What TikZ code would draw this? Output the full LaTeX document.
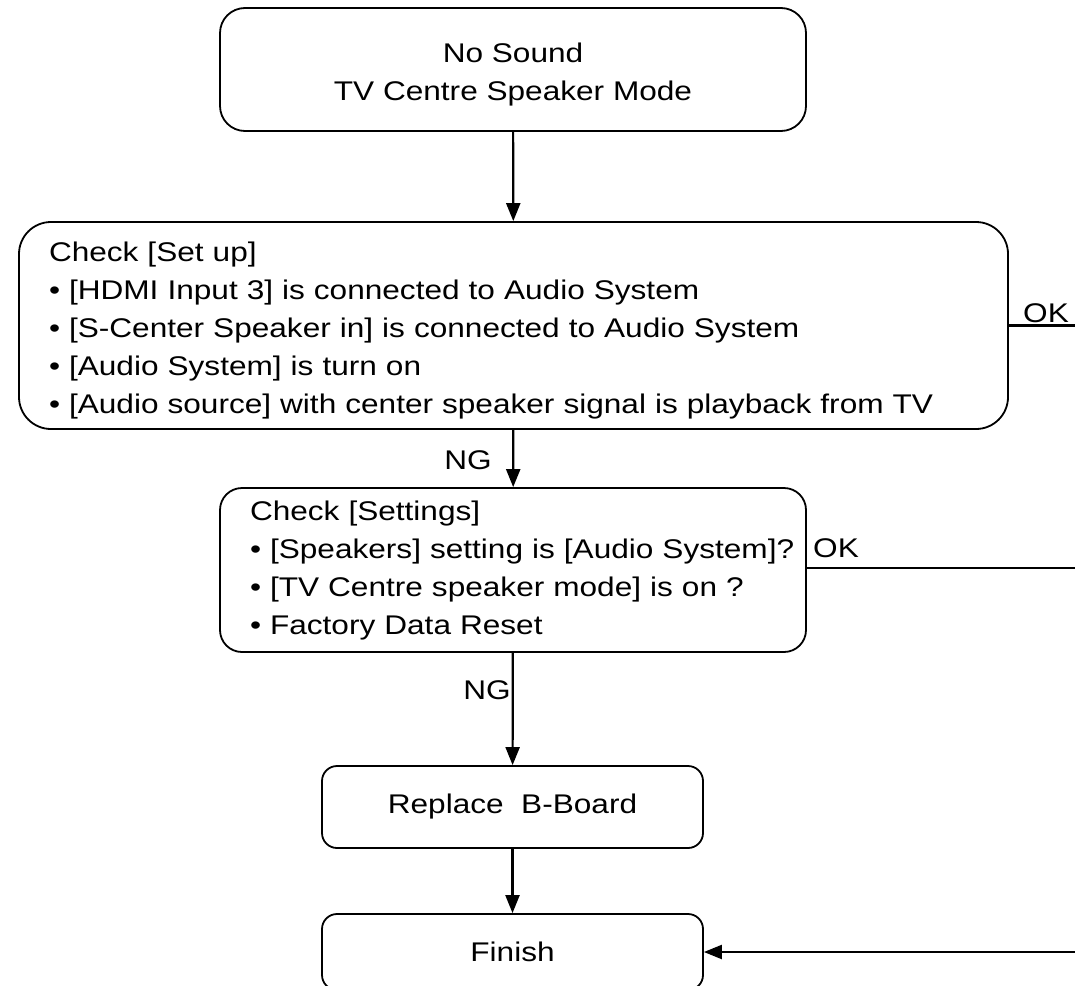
\documentclass[tikz,border=0pt]{standalone}
\usepackage{fontspec}
\setmainfont{Liberation Sans}[FakeStretch=1.17]
\usetikzlibrary{arrows.meta}
\begin{document}
\begin{tikzpicture}[x=1pt,y=-1pt,
  every node/.style={font=\fontsize{27}{38}\selectfont},
  box/.style={draw, line width=1.8pt, rounded corners=#1, inner sep=0pt},
  box/.default=20pt,
  arr/.style={line width=2.2pt, -{Triangle[length=18pt,width=14pt]}},
  ln/.style={line width=2.2pt},
  lbl/.style={inner sep=0pt}]
\useasboundingbox (0,0) rectangle (1075,985);
\node[box=25pt, minimum width=586pt, minimum height=123pt] (b1) at (513,69.5)
  {\raisebox{-4pt}[\height][\depth]{\begin{tabular}{@{}c@{}}No Sound\\TV Centre Speaker Mode\end{tabular}}};
\node[box=32pt, minimum width=989pt, minimum height=207pt, text width=929pt, inner xsep=30pt, align=left] (b2) at (513.5,325.5)
  {\raisebox{-4pt}[\height][\depth]{\begin{tabular}{@{}l@{}}Check [Set up]\\
   • [HDMI Input 3] is connected to Audio System\\
   • [S-Center Speaker in] is connected to Audio System\\
   • [Audio System] is turn on\\
   • [Audio source] with center speaker signal is playback from TV\end{tabular}}};
\node[box=22pt, minimum width=586pt, minimum height=164pt, text width=526pt, inner xsep=30pt, align=left] (b3) at (513,570)
  {\begin{tabular}{@{}l@{}}Check [Settings]\\
   • [Speakers] setting is [Audio System]?\\
   • [TV Centre speaker mode] is on ?\\
   • Factory Data Reset\end{tabular}};
\node[box=15pt, minimum width=381pt, minimum height=82pt] (b4) at (512.5,807) {Replace\ \ B-Board};
\node[box=15pt, minimum width=381pt, minimum height=76pt] (b5) at (512.5,952) {Finish};
\coordinate (e1) at (1075,325.5);
\coordinate (e2) at (1075,568);
\coordinate (e3) at (1075,952);
\draw[arr] (b1) -- (b2);
\draw[arr] (b2) -- (b3);
\draw[arr] (b3) -- (b4);
\draw[arr] (b4) -- (b5);
\draw[ln] (b2.east) -- (e1);
\draw[ln] (b3.east |- e2) -- (e2);
\draw[arr] (e3) -- (b5.east);
\node[lbl] (ok1) at (1046,313) {OK};
\node[lbl] (ok2) at (836,548) {OK};
\node[lbl] (ng1) at (468,460) {NG};
\node[lbl, anchor=east] (ng2) at (511,690) {NG};
\end{tikzpicture}
\end{document}
